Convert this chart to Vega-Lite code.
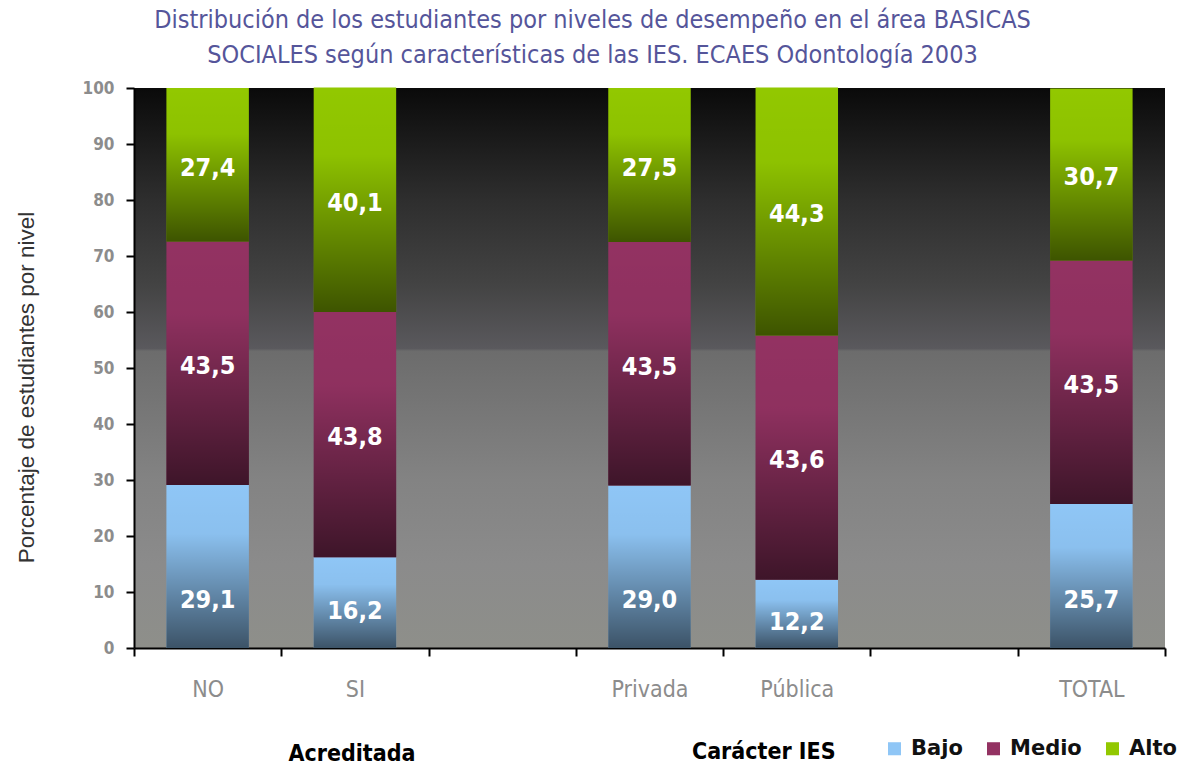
{
  "$schema": "https://vega.github.io/schema/vega-lite/v6.json",
  "width": 1031,
  "height": 560,
  "autosize": {"type": "none"},
  "padding": {"left": 134, "top": 88, "right": 21, "bottom": 121},
  "background": "white",
  "title": {
    "text": ["Distribución de los estudiantes por niveles de desempeño en el área BASICAS", "SOCIALES según características de las IES. ECAES Odontología 2003"],
    "font": "DejaVu Sans Condensed",
    "fontSize": 25,
    "fontWeight": "normal",
    "color": "#55559a",
    "anchor": "middle",
    "dx": -57,
    "offset": 11,
    "lineHeight": 35
  },
  "config": {
    "locale": {"number": {"decimal": ",", "thousands": ".", "grouping": [3], "currency": ["", ""]}},
    "view": {
      "stroke": null,
      "fill": {
        "gradient": "linear", "x1": 0, "y1": 0, "x2": 0, "y2": 1,
        "stops": [
          {"offset": 0, "color": "#0a0a0a"},
          {"offset": 0.1, "color": "#1c1c1c"},
          {"offset": 0.2, "color": "#2e2e2e"},
          {"offset": 0.35, "color": "#434343"},
          {"offset": 0.465, "color": "#5a595d"},
          {"offset": 0.47, "color": "#6c6c6c"},
          {"offset": 0.7, "color": "#838383"},
          {"offset": 0.85, "color": "#8b8b8b"},
          {"offset": 1, "color": "#8e8f8a"}
        ]
      }
    }
  },
  "datasets": {
    "main": [
      {"cat": "NO", "level": "Bajo", "ord": 1, "value": 29.1},
      {"cat": "NO", "level": "Medio", "ord": 2, "value": 43.5},
      {"cat": "NO", "level": "Alto", "ord": 3, "value": 27.4},
      {"cat": "SI", "level": "Bajo", "ord": 1, "value": 16.2},
      {"cat": "SI", "level": "Medio", "ord": 2, "value": 43.8},
      {"cat": "SI", "level": "Alto", "ord": 3, "value": 40.1},
      {"cat": "Privada", "level": "Bajo", "ord": 1, "value": 29.0},
      {"cat": "Privada", "level": "Medio", "ord": 2, "value": 43.5},
      {"cat": "Privada", "level": "Alto", "ord": 3, "value": 27.5},
      {"cat": "Pública", "level": "Bajo", "ord": 1, "value": 12.2},
      {"cat": "Pública", "level": "Medio", "ord": 2, "value": 43.6},
      {"cat": "Pública", "level": "Alto", "ord": 3, "value": 44.3},
      {"cat": "TOTAL", "level": "Bajo", "ord": 1, "value": 25.7},
      {"cat": "TOTAL", "level": "Medio", "ord": 2, "value": 43.5},
      {"cat": "TOTAL", "level": "Alto", "ord": 3, "value": 30.7}
    ]
  },
  "data": {"name": "main"},
  "encoding": {
    "x": {
      "field": "cat",
      "type": "nominal",
      "scale": {"domain": ["NO", "SI", "g1", "Privada", "Pública", "g2", "TOTAL"], "paddingInner": 0, "paddingOuter": 0},
      "axis": {
        "title": null,
        "labelAngle": 0,
        "tickBand": "extent",
        "labelExpr": "datum.value == 'g1' || datum.value == 'g2' ? '' : datum.value",
        "labelFont": "DejaVu Sans Condensed",
        "labelFontSize": 23,
        "labelColor": "#8c8c8c",
        "labelPadding": 22,
        "labelBaseline": "top",
        "tickSize": 8,
        "tickColor": "#000000",
        "tickWidth": 2,
        "domainColor": "#000000",
        "domainWidth": 2
      }
    }
  },
  "layer": [
    {
      "transform": [{"stack": "value", "groupby": ["cat"], "sort": [{"field": "ord", "order": "ascending"}], "as": ["y0", "y1"]}],
      "mark": {"type": "bar", "width": {"band": 0.56}},
      "encoding": {
        "y": {
          "field": "y0", "type": "quantitative",
          "scale": {"domain": [0, 100], "nice": false},
          "axis": {
            "values": [0, 10, 20, 30, 40, 50, 60, 70, 80, 90, 100],
            "grid": false,
            "title": "Porcentaje de estudiantes por nivel",
            "titleFont": "Liberation Sans",
            "titleFontSize": 22.5,
            "titleFontWeight": "normal",
            "titleColor": "#333333",
            "titleAngle": -90,
            "titleX": -96,
            "titleY": 299,
            "titleAlign": "center",
            "titleBaseline": "bottom",
            "labelFont": "DejaVu Sans Condensed",
            "labelFontSize": 17,
            "labelFontWeight": "bold",
            "labelColor": "#8c8c8c",
            "labelPadding": 12,
            "tickSize": 8,
            "tickColor": "#000000",
            "tickWidth": 2,
            "domainColor": "#000000",
            "domainWidth": 2
          }
        },
        "y2": {"field": "y1"},
        "color": {
          "field": "level", "type": "nominal",
          "scale": {"domain": ["Bajo", "Medio", "Alto"], "range": ["#8fc6f6", "#933262", "#92c800"]},
          "legend": {
            "orient": "none",
            "legendX": 750,
            "legendY": 650,
            "direction": "horizontal",
            "title": null,
            "symbolType": "square",
            "symbolSize": 170,
            "symbolStrokeWidth": 0,
            "labelFont": "DejaVu Sans",
            "labelFontSize": 21,
            "labelFontWeight": "bold",
            "labelColor": "#111111",
            "labelOffset": 6,
            "columnPadding": 20,
            "padding": 0
          }
        }
      }
    },
    {
      "transform": [{"stack": "value", "groupby": ["cat"], "sort": [{"field": "ord", "order": "ascending"}], "as": ["y0", "y1"]}],
      "mark": {
        "type": "bar",
        "width": {"band": 0.56},
        "fill": {
          "gradient": "linear", "x1": 0, "y1": 0, "x2": 0, "y2": 1,
          "stops": [
            {"offset": 0, "color": "rgba(0,0,0,0)"},
            {"offset": 0.3, "color": "rgba(0,0,0,0.03)"},
            {"offset": 1, "color": "rgba(0,0,0,0.58)"}
          ]
        }
      },
      "encoding": {
        "y": {"field": "y0", "type": "quantitative", "scale": {"domain": [0, 100], "nice": false}},
        "y2": {"field": "y1"}
      }
    },
    {
      "transform": [
        {"stack": "value", "groupby": ["cat"], "sort": [{"field": "ord", "order": "ascending"}], "as": ["y0", "y1"]},
        {"calculate": "datum.level == 'Bajo' ? min((datum.y0 + datum.y1) / 2 - 1.5, 8.5) : (datum.y0 + datum.y1) / 2 - 0.5", "as": "lab"}
      ],
      "mark": {"type": "text", "font": "DejaVu Sans Condensed", "fontSize": 25, "fontWeight": "bold", "color": "#ffffff", "baseline": "middle", "align": "center"},
      "encoding": {
        "y": {"field": "lab", "type": "quantitative", "scale": {"domain": [0, 100], "nice": false}},
        "text": {"field": "value", "type": "quantitative", "format": ".1f"}
      }
    },
    {
      "data": {"values": [{"cat": "SI", "group": "Acreditada"}]},
      "mark": {"type": "text", "font": "DejaVu Sans Condensed", "fontSize": 23, "fontWeight": "bold", "color": "#000000", "baseline": "middle", "align": "center", "dx": -3},
      "encoding": {
        "y": {"datum": -19, "type": "quantitative", "scale": {"domain": [0, 100], "nice": false}},
        "text": {"field": "group"}
      }
    },
    {
      "data": {"values": [{"cat": "Pública", "group": "Carácter IES"}]},
      "mark": {"type": "text", "font": "DejaVu Sans Condensed", "fontSize": 23, "fontWeight": "bold", "color": "#000000", "baseline": "middle", "align": "center", "dx": -33},
      "encoding": {
        "y": {"datum": -18.5, "type": "quantitative", "scale": {"domain": [0, 100], "nice": false}},
        "text": {"field": "group"}
      }
    }
  ]
}
